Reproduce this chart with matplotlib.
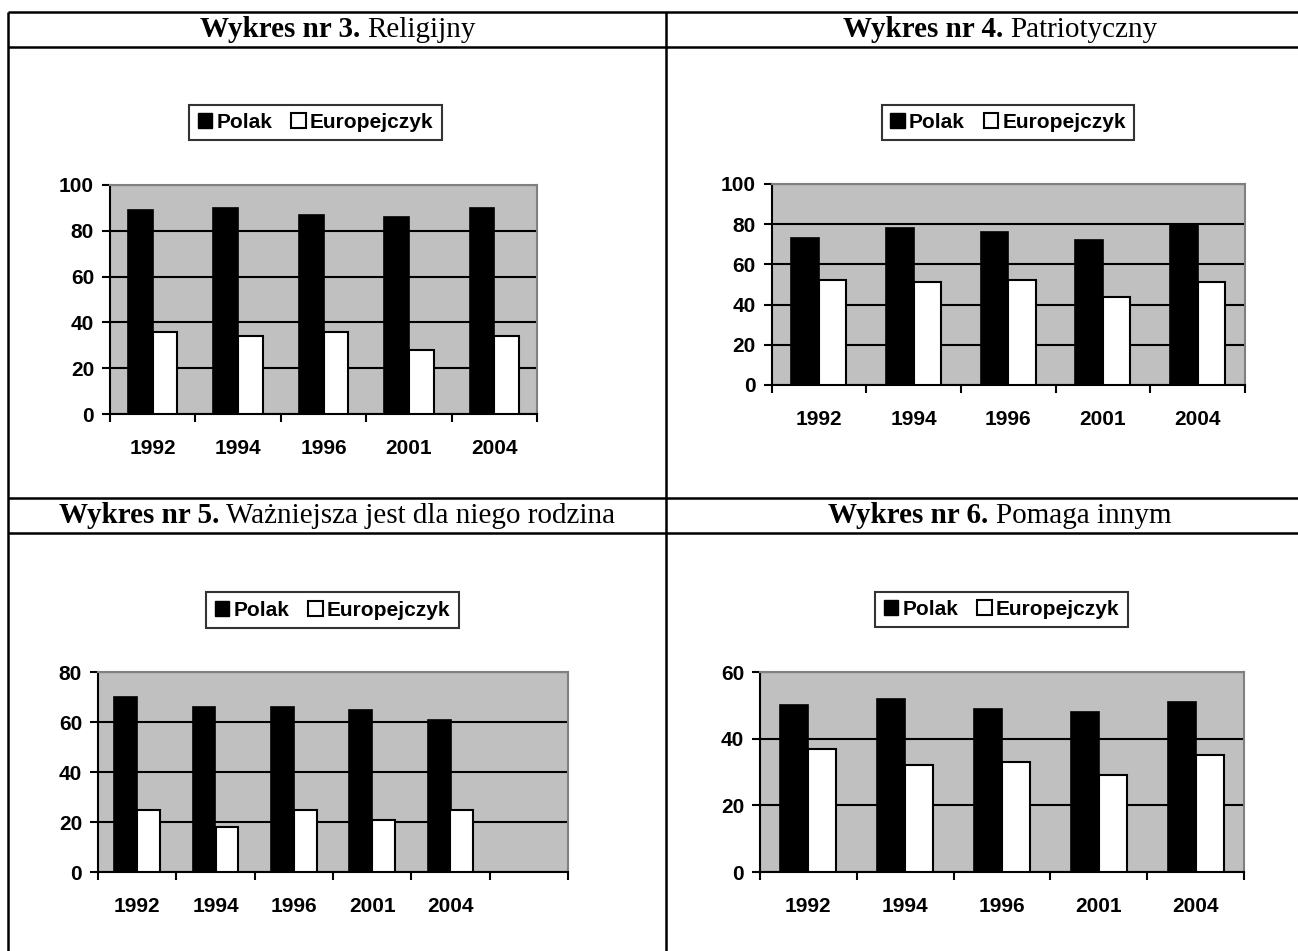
import numpy as np
import matplotlib
matplotlib.use("Agg")
import matplotlib.pyplot as plt
from matplotlib.lines import Line2D
from matplotlib.patches import Patch

# ---------------- data ----------------
years = ["1992", "1994", "1996", "2001", "2004"]
series_names = ["Polak", "Europejczyk"]

religijny_polak = [89, 90, 87, 86, 90]
religijny_europ = [36, 34, 36, 28, 34]

patriotyczny_polak = [73, 78, 76, 72, 80]
patriotyczny_europ = [52, 51, 52, 44, 51]

rodzina_polak = [70, 66, 66, 65, 61]
rodzina_europ = [25, 18, 25, 21, 25]

pomaga_polak = [50, 52, 49, 48, 51]
pomaga_europ = [37, 32, 33, 29, 35]

titles_bold = ["Wykres nr 3.", "Wykres nr 4.", "Wykres nr 5.", "Wykres nr 6."]
titles_rest = ["Religijny", "Patriotyczny", "Ważniejsza jest dla niego rodzina", "Pomaga innym"]

# ---------------- layout ----------------
W, H = 1298, 951
fig = plt.figure(figsize=(W / 100, H / 100), dpi=100)
fig.patch.set_facecolor("white")

SANS = "Liberation Sans"
SERIF = "Liberation Serif"
TICK_FS = 15
LEG_FS = 15
TITLE_FS = 21


def fx(x):
    return x / W


def fy(y):
    return 1 - y / H


def hline(y, x0, x1, lw=1.8):
    fig.add_artist(Line2D([fx(x0), fx(x1)], [fy(y), fy(y)], transform=fig.transFigure,
                          color="black", lw=lw, solid_capstyle="butt"))


def vline(x, y0, y1, lw=1.8):
    fig.add_artist(Line2D([fx(x), fx(x)], [fy(y0), fy(y1)], transform=fig.transFigure,
                          color="black", lw=lw, solid_capstyle="butt"))


# table grid
hline(12, 8, W)
hline(47, 8, W)
hline(498, 8, W)
hline(533, 8, W)
vline(8, 12, H)
vline(666, 12, H)

renderer = fig.canvas.get_renderer()


def title(cx, baseline, bold, rest):
    t1 = fig.text(0, fy(baseline), bold, fontsize=TITLE_FS, family=SERIF, fontweight="bold",
                  va="baseline", ha="left")
    t2 = fig.text(0, fy(baseline), rest, fontsize=TITLE_FS, family=SERIF, fontweight="normal",
                  va="baseline", ha="left")
    w1 = t1.get_window_extent(renderer).width
    w2 = t2.get_window_extent(renderer).width
    gap = 0.25 * TITLE_FS * 100 / 72
    total = w1 + gap + w2
    x0 = cx - total / 2
    t1.set_x(fx(x0))
    t2.set_x(fx(x0 + w1 + gap))


title(338, 37, titles_bold[0], titles_rest[0])
title(1000, 37, titles_bold[1], titles_rest[1])
title(337, 523, titles_bold[2], titles_rest[2])
title(1000, 523, titles_bold[3], titles_rest[3])


def chart(x0, x1, ytop, ybot, ymax, ncat, polak, europ, leg_center):
    ax = fig.add_axes([fx(x0), fy(ybot), (x1 - x0) / W, (ybot - ytop) / H])
    ax.set_facecolor("#C0C0C0")
    x = np.arange(len(polak))
    bw = 0.29
    ax.bar(x - bw / 2, polak, width=bw, color="black", edgecolor="black", lw=1.2, zorder=3)
    ax.bar(x + bw / 2, europ, width=bw, color="white", edgecolor="black", lw=1.5, zorder=3)
    ax.set_xlim(-0.5, ncat - 0.5)
    ax.set_ylim(0, ymax)
    ax.set_yticks(np.arange(0, ymax + 1, 20))
    ax.set_axisbelow(True)
    ax.yaxis.grid(True, color="black", lw=1.5)
    ax.set_xticks(np.arange(-0.5, ncat, 1.0))
    ax.set_xticklabels([])
    ax.set_xticks(x, minor=True)
    ax.set_xticklabels(years, minor=True)
    ax.tick_params(axis="x", which="major", length=5.5, width=1.5, direction="out")
    ax.tick_params(axis="x", which="minor", length=0, pad=18)
    ax.tick_params(axis="y", length=5.5, width=1.5, direction="out", pad=6)
    for lbl in ax.get_yticklabels() + ax.get_xticklabels(minor=True):
        lbl.set_fontfamily(SANS)
        lbl.set_fontweight("bold")
        lbl.set_fontsize(TICK_FS)
    for s in ("left", "bottom"):
        ax.spines[s].set_color("black")
        ax.spines[s].set_linewidth(1.5)
    for s in ("top", "right"):
        ax.spines[s].set_color("#808080")
        ax.spines[s].set_linewidth(1.5)

    handles = [Patch(facecolor="black", edgecolor="black", lw=1.0),
               Patch(facecolor="white", edgecolor="black", lw=1.5)]
    leg = fig.legend(handles, series_names, loc="center",
                     bbox_to_anchor=(fx(leg_center[0]), fy(leg_center[1])),
                     bbox_transform=fig.transFigure, ncol=2, frameon=True, fancybox=False,
                     prop={"family": SANS, "weight": "bold", "size": LEG_FS},
                     handlelength=0.7, handleheight=0.7, handletextpad=0.2,
                     columnspacing=0.9, borderpad=0.4)
    fr = leg.get_frame()
    fr.set_edgecolor("black")
    fr.set_linewidth(1.5)
    fr.set_facecolor("white")
    return ax


chart(110, 537, 185, 414, 100, 5, religijny_polak, religijny_europ, (315.5, 122.5))
chart(771.5, 1245, 184, 385, 100, 5, patriotyczny_polak, patriotyczny_europ, (1008, 122.5))
chart(98, 568, 672, 872, 80, 6, rodzina_polak, rodzina_europ, (332.5, 610))
chart(760, 1244, 672, 872, 60, 5, pomaga_polak, pomaga_europ, (1001.5, 609.5))

fig.savefig("out.png", dpi=100, facecolor="white")
